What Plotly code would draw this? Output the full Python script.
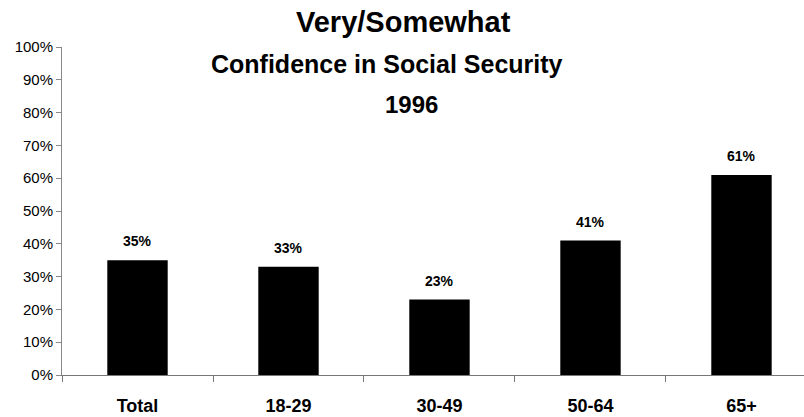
import plotly.graph_objects as go

# Survey results: share with very/somewhat confidence in Social Security, 1996
groups = ["Total", "18-29", "30-49", "50-64", "65+"]
confidence = [0.35, 0.33, 0.23, 0.41, 0.61]
y_ticks = [0.0, 0.1, 0.2, 0.3, 0.4, 0.5, 0.6, 0.7, 0.8, 0.9, 1.0]
y_tick_labels = ["0%", "10%", "20%", "30%", "40%", "50%", "60%", "70%", "80%", "90%", "100%"]

FONT = "Liberation Sans, Arial, sans-serif"

fig = go.Figure(
    go.Bar(
        x=groups,
        y=confidence,
        width=0.40,
        marker=dict(color="black", line=dict(width=0)),
        hoverinfo="skip",
    )
)

# value labels above each bar
for g, v in zip(groups, confidence):
    fig.add_annotation(
        x=g, y=v, text=f"<b>{round(v * 100)}%</b>", showarrow=False,
        yshift=19, font=dict(family=FONT, size=14, color="black"),
    )

# three-line title, positioned relative to the plotting area
titles = [
    ("<b>Very/Somewhat</b>", 29, 0.46, 1.076),
    ("<b>Confidence in Social Security</b>", 25, 0.438, 0.948),
    ("<b>1996</b>", 24, 0.471, 0.826),
]
for txt, size, xx, yy in titles:
    fig.add_annotation(
        x=xx, xref="paper", y=yy, yref="paper", yanchor="middle",
        text=txt, showarrow=False, font=dict(family=FONT, size=size, color="black"),
    )

fig.update_layout(
    width=804, height=417,
    margin=dict(l=62, r=0, t=47, b=42),
    paper_bgcolor="white", plot_bgcolor="white",
    showlegend=False,
    font=dict(family=FONT, color="black"),
)
fig.update_xaxes(
    range=[-0.5, 4.414],
    tickvals=groups, ticktext=[f"<b>{g}</b>" for g in groups],
    showline=True, linecolor="#777", linewidth=1,
    ticks="outside", tickson="boundaries", ticklen=6, tickcolor="#777",
    tickfont=dict(family=FONT, size=18, color="black"),
    ticklabelstandoff=14,
    showgrid=False,
)
fig.update_yaxes(
    range=[0, 1],
    tickvals=y_ticks, ticktext=y_tick_labels,
    showline=True, linecolor="#888", linewidth=1,
    ticks="outside", ticklen=5, tickcolor="#888",
    tickfont=dict(family=FONT, size=15, color="black"),
    showgrid=False, zeroline=False,
)

fig.write_html("out.html")
